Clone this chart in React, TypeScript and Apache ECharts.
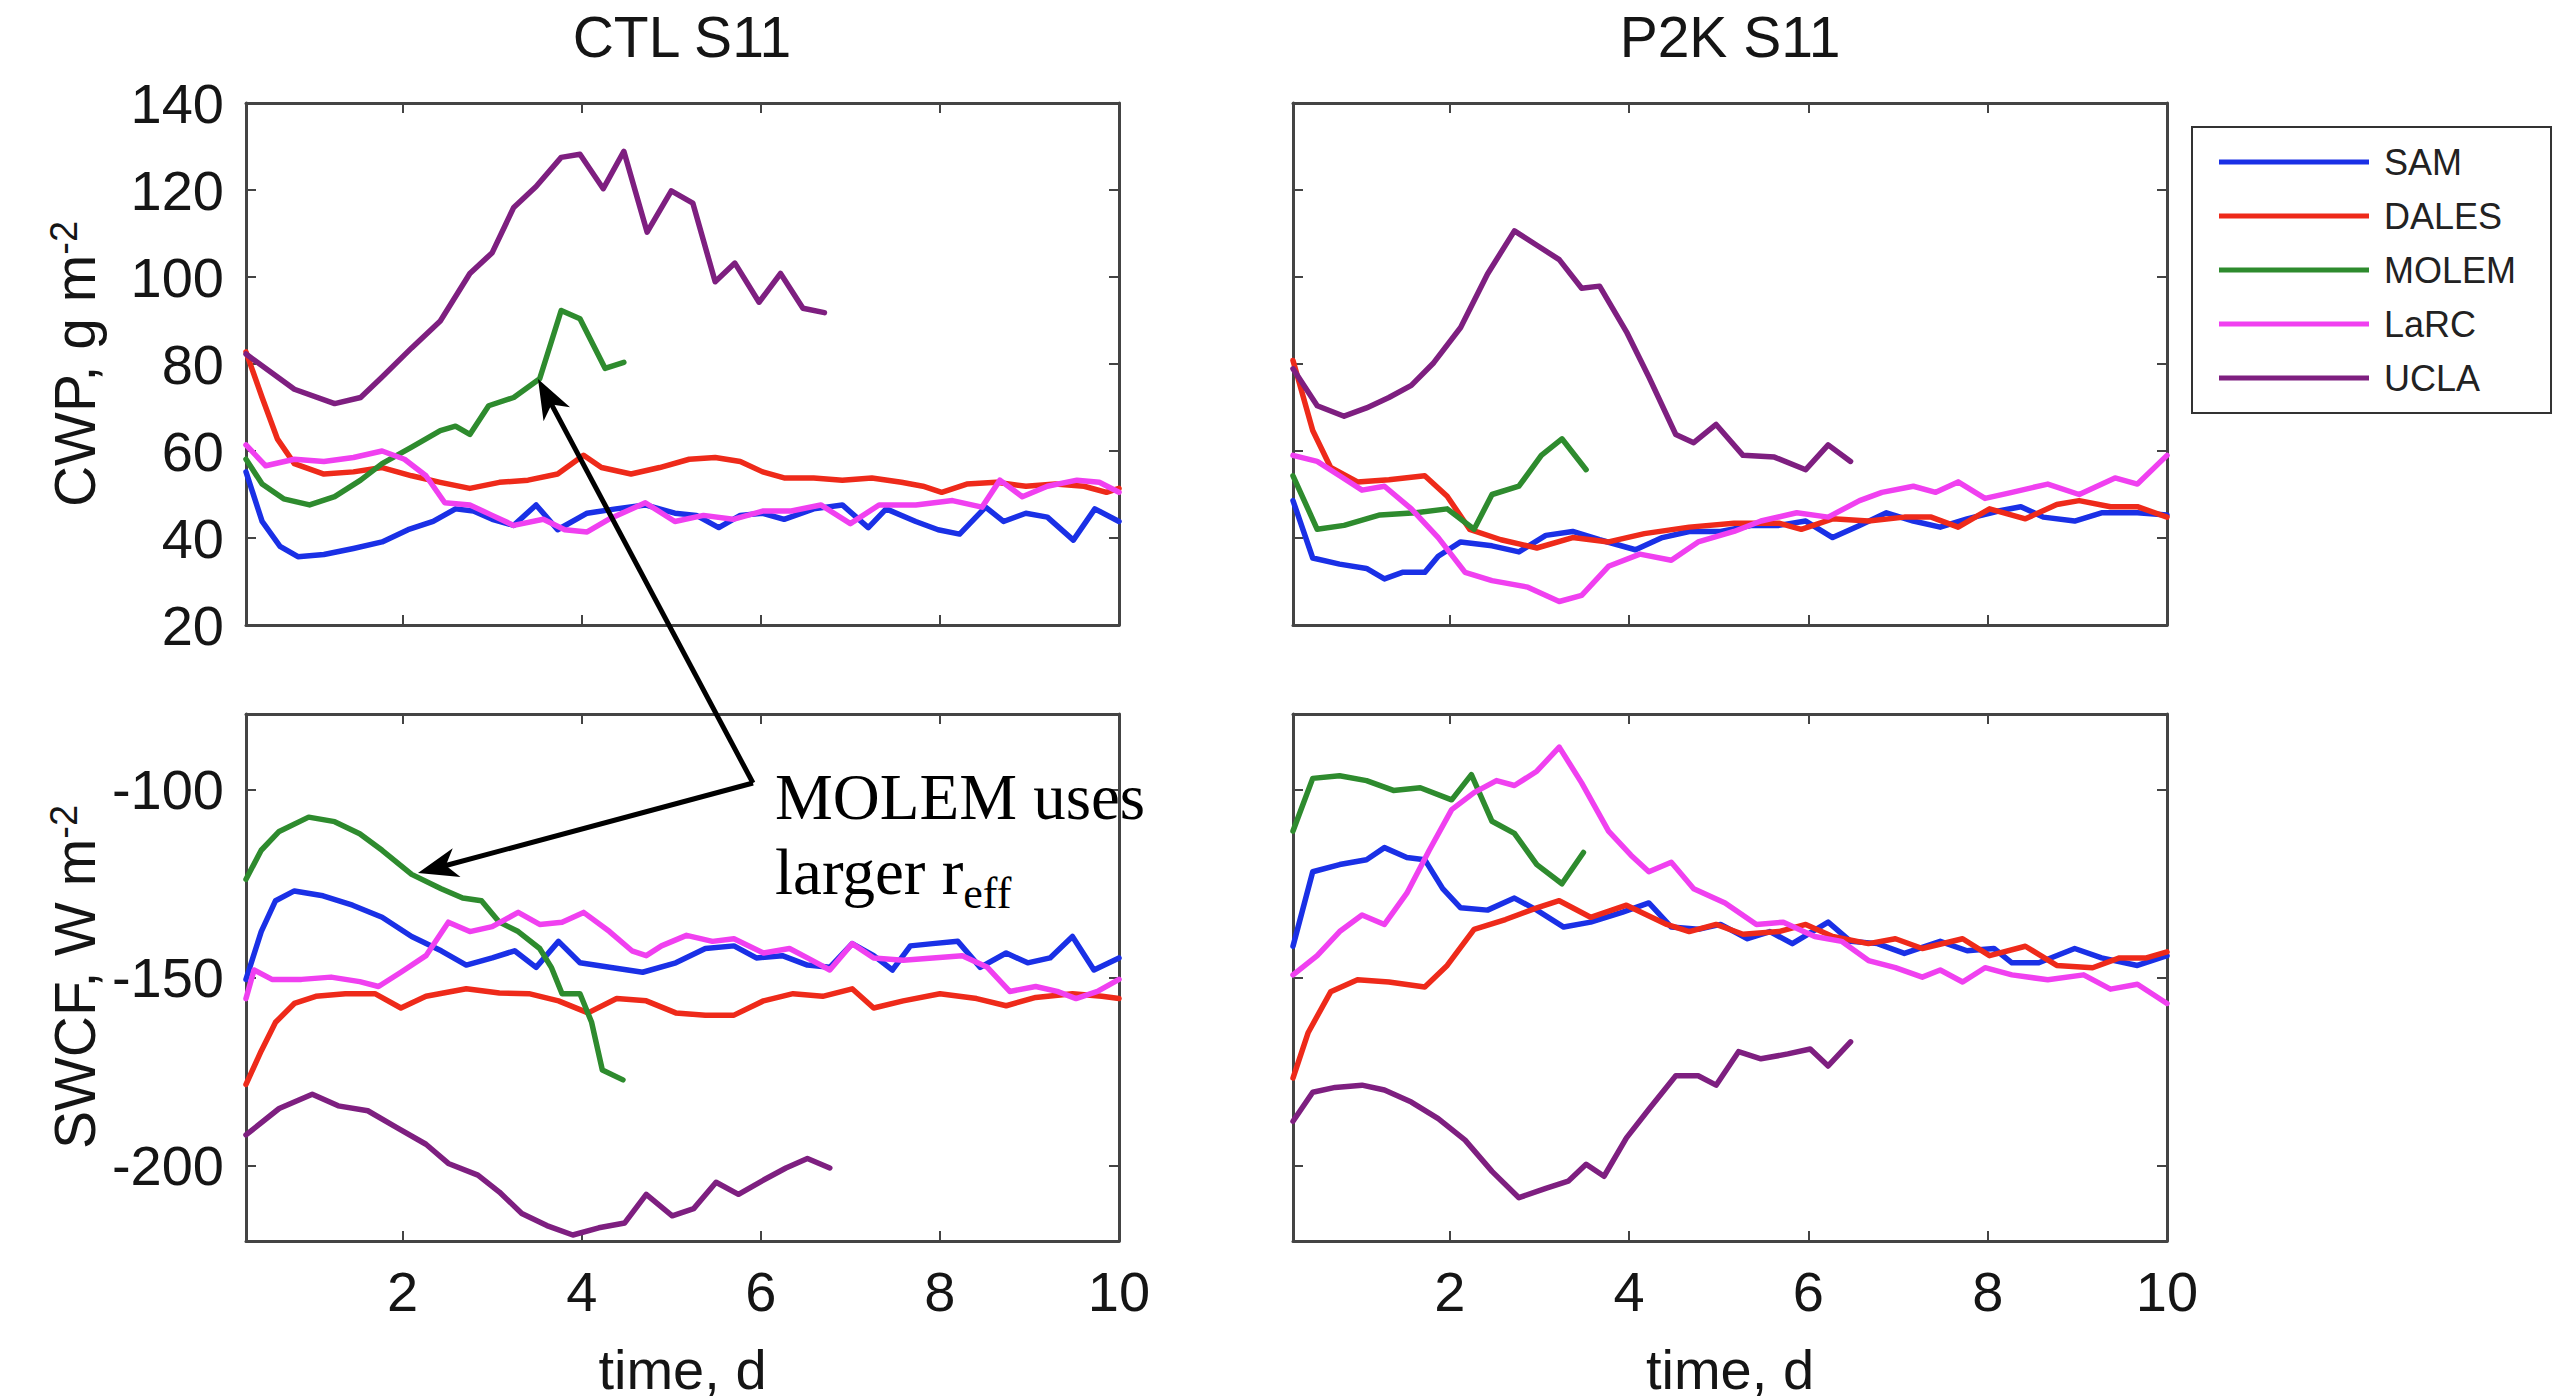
import React, { useEffect, useRef } from "react";
import * as echarts from "echarts";

// ---------- data ----------
const models = ["SAM", "DALES", "MOLEM", "LaRC", "UCLA"];
const modelColors = ["#1a30e6", "#ee2a1a", "#2e8b2e", "#f040f0", "#7e1f80"];
const panelTitles = ["CTL S11", "P2K S11"];
const xTickValues = [2, 4, 6, 8, 10];
const cwpTicks = [20, 40, 60, 80, 100, 120, 140];
const swcfTicks = [-200, -150, -100];

// CTL, CWP (g m-2)
const ctlCwpSam = [[0.25,55.2],[0.43,43.8],[0.63,38.1],[0.83,35.7],[1.12,36.2],[1.45,37.6],[1.77,39.1],[2.06,41.9],[2.34,43.8],[2.59,46.7],[2.79,46.2],[3.0,44.3],[3.24,42.9],[3.49,47.6],[3.73,41.9],[4.06,45.7],[4.38,46.7],[4.71,47.6],[5.04,45.7],[5.28,45.2],[5.53,42.4],[5.77,45.2],[6.02,45.7],[6.26,44.3],[6.59,46.7],[6.91,47.6],[7.2,42.4],[7.4,46.7],[7.73,43.8],[7.98,41.9],[8.22,40.9],[8.51,47.1],[8.71,43.8],[8.96,45.7],[9.2,44.8],[9.49,39.5],[9.73,46.7],[10,43.8]];
const ctlCwpDales = [[0.25,82.8],[0.43,72.3],[0.6,62.8],[0.79,57.1],[1.12,54.7],[1.45,55.2],[1.77,56.2],[2.1,54.3],[2.42,52.8],[2.75,51.4],[3.08,52.8],[3.4,53.3],[3.73,54.7],[4.02,59],[4.22,56.2],[4.55,54.7],[4.87,56.2],[5.2,58.1],[5.49,58.5],[5.77,57.6],[6.02,55.2],[6.26,53.8],[6.59,53.8],[6.91,53.3],[7.24,53.8],[7.57,52.8],[7.81,51.9],[8.02,50.5],[8.3,52.4],[8.63,52.8],[8.96,51.9],[9.29,52.4],[9.61,51.9],[9.86,50.5],[10,51.4]];
const ctlCwpMolem = [[0.25,58.1],[0.43,52.4],[0.67,49],[0.96,47.6],[1.24,49.5],[1.53,53.3],[1.77,57.1],[2.1,60.9],[2.42,64.7],[2.59,65.7],[2.75,63.8],[2.96,70.4],[3.24,72.3],[3.53,76.6],[3.77,92.3],[3.98,90.4],[4.26,79],[4.47,80.4]];
const ctlCwpLarc = [[0.25,61.4],[0.47,56.6],[0.79,58.1],[1.12,57.6],[1.45,58.5],[1.77,60],[2.02,58.1],[2.26,54.3],[2.47,48.1],[2.75,47.6],[3.0,45.2],[3.24,42.9],[3.57,44.3],[3.81,41.9],[4.06,41.4],[4.3,44.3],[4.71,48.1],[5.04,43.8],[5.36,45.2],[5.69,44.3],[6.02,46.2],[6.34,46.2],[6.67,47.6],[7.0,43.3],[7.32,47.6],[7.73,47.6],[8.14,48.6],[8.47,47.1],[8.67,53.3],[8.92,49.5],[9.2,51.9],[9.53,53.3],[9.78,52.8],[10,50.5]];
const ctlCwpUcla = [[0.25,82.3],[0.79,74.2],[1.24,70.9],[1.53,72.3],[1.77,77],[2.1,83.7],[2.42,89.9],[2.75,100.8],[3.0,105.6],[3.24,116],[3.49,120.8],[3.77,127.5],[3.98,128.2],[4.24,120.3],[4.47,128.9],[4.73,110.3],[5.0,119.8],[5.24,117],[5.49,98.9],[5.71,103.2],[5.98,94.2],[6.22,100.8],[6.47,92.8],[6.71,91.8]];

// P2K, CWP (g m-2)
const p2kCwpSam = [[0.25,48.6],[0.47,35.4],[0.77,34],[1.07,33],[1.27,30.6],[1.47,32.1],[1.72,32.1],[1.87,35.8],[2.12,39.1],[2.47,38.2],[2.77,36.8],[3.07,40.6],[3.37,41.5],[3.67,39.6],[4.07,37.3],[4.37,40.1],[4.67,41.5],[5.02,41.5],[5.37,42.9],[5.67,42.9],[5.97,43.9],[6.27,40.1],[6.57,42.9],[6.87,45.8],[7.17,43.9],[7.47,42.5],[7.77,44.4],[8.12,46.2],[8.37,47.2],[8.62,44.8],[8.97,43.9],[9.27,45.8],[9.67,45.8],[10,45.3]];
const p2kCwpDales = [[0.25,80.8],[0.47,64.7],[0.67,56.2],[0.97,52.9],[1.32,53.4],[1.72,54.3],[1.97,49.6],[2.22,42],[2.57,39.6],[2.97,37.7],[3.37,40.1],[3.77,39.1],[4.17,41],[4.67,42.5],[5.17,43.4],[5.67,43.4],[5.92,42],[6.27,44.4],[6.67,43.9],[7.07,44.8],[7.37,44.8],[7.67,42.5],[8.02,46.7],[8.42,44.4],[8.77,47.7],[9.02,48.6],[9.37,47.2],[9.67,47.2],[10,44.8]];
const p2kCwpMolem = [[0.25,54.3],[0.52,42],[0.82,42.9],[1.22,45.3],[1.62,45.8],[1.97,46.7],[2.27,42],[2.47,50],[2.77,51.9],[3.02,59],[3.25,62.8],[3.52,55.7]];
const p2kCwpLarc = [[0.25,59],[0.52,57.6],[0.77,54.3],[1.02,51],[1.27,51.9],[1.57,46.7],[1.87,40.1],[2.17,32.1],[2.47,30.2],[2.87,28.7],[3.22,25.4],[3.47,26.8],[3.77,33.5],[4.12,36.3],[4.47,34.9],[4.77,39.1],[5.17,41.5],[5.47,43.9],[5.87,45.8],[6.22,44.8],[6.57,48.6],[6.82,50.5],[7.17,51.9],[7.42,50.5],[7.67,52.9],[7.97,49.1],[8.27,50.5],[8.67,52.4],[9.02,50],[9.42,53.8],[9.67,52.4],[10,59]];
const p2kCwpUcla = [[0.25,78.9],[0.52,70.4],[0.82,68],[1.07,69.9],[1.32,72.3],[1.57,75.1],[1.82,80.3],[2.12,88.4],[2.42,100.7],[2.72,110.6],[2.97,107.3],[3.22,104],[3.47,97.4],[3.67,97.9],[3.97,87.4],[4.22,77],[4.52,63.8],[4.72,61.9],[4.97,66.1],[5.27,59],[5.62,58.6],[5.97,55.7],[6.22,61.4],[6.47,57.6]];

// CTL, SWCF (W m-2)
const ctlSwcfSam = [[0.25,-150.5],[0.42,-137.8],[0.58,-129.6],[0.79,-127],[1.11,-128.3],[1.44,-130.8],[1.77,-134],[2.1,-139.1],[2.43,-142.9],[2.71,-146.7],[3.0,-144.8],[3.25,-142.9],[3.49,-147.3],[3.74,-140.4],[3.98,-146.1],[4.31,-147.3],[4.68,-148.6],[5.05,-146.1],[5.38,-142.3],[5.7,-141.6],[5.95,-144.8],[6.24,-144.2],[6.52,-146.7],[6.77,-147.3],[7.02,-141],[7.26,-144.2],[7.47,-148],[7.67,-141.6],[7.92,-141],[8.2,-140.4],[8.45,-147.3],[8.74,-143.5],[8.98,-146.1],[9.23,-144.8],[9.48,-139.1],[9.72,-148],[10,-144.8]];
const ctlSwcfDales = [[0.25,-178.4],[0.42,-169.5],[0.58,-161.9],[0.79,-156.9],[1.03,-155],[1.36,-154.3],[1.69,-154.3],[1.98,-158.1],[2.26,-155],[2.71,-153],[3.08,-154.1],[3.41,-154.3],[3.74,-156.2],[4.07,-159.4],[4.39,-155.6],[4.72,-156.2],[5.05,-159.4],[5.38,-160],[5.7,-160],[6.03,-156.2],[6.36,-154.3],[6.69,-155],[7.02,-153],[7.26,-158.1],[7.59,-156.2],[8.0,-154.3],[8.41,-155.6],[8.74,-157.5],[9.07,-155.3],[9.48,-154.3],[9.81,-155],[10,-155.6]];
const ctlSwcfMolem = [[0.25,-123.9],[0.42,-116.2],[0.62,-111.2],[0.95,-107.4],[1.24,-108.6],[1.52,-111.8],[1.77,-116.2],[2.1,-122.6],[2.43,-126.4],[2.67,-128.9],[2.88,-129.6],[3.08,-135.3],[3.29,-137.8],[3.53,-142.3],[3.66,-147.3],[3.78,-154.3],[3.98,-154.3],[4.11,-161.9],[4.23,-174.6],[4.46,-177.2]];
const ctlSwcfLarc = [[0.25,-155.6],[0.34,-148],[0.54,-150.5],[0.87,-150.5],[1.2,-149.9],[1.52,-151.1],[1.73,-152.4],[1.98,-148.6],[2.26,-144.2],[2.51,-135.3],[2.75,-137.8],[3.0,-136.5],[3.29,-132.7],[3.53,-135.9],[3.78,-135.3],[4.02,-132.7],[4.31,-137.8],[4.56,-142.9],[4.72,-144.2],[4.89,-141.6],[5.17,-138.8],[5.46,-140.4],[5.7,-139.7],[6.03,-143.5],[6.32,-142.3],[6.52,-144.8],[6.77,-148],[7.02,-141],[7.26,-144.8],[7.59,-145.4],[7.92,-144.8],[8.25,-144.2],[8.53,-147.3],[8.78,-153.7],[9.07,-152.4],[9.31,-153.7],[9.52,-155.6],[9.76,-153.7],[10,-150.5]];
const ctlSwcfUcla = [[0.25,-191.8],[0.62,-184.8],[0.99,-181],[1.28,-184.1],[1.61,-185.4],[1.93,-189.8],[2.26,-194.3],[2.51,-199.4],[2.84,-202.5],[3.08,-207],[3.33,-212.7],[3.61,-215.9],[3.9,-218.4],[4.19,-216.5],[4.48,-215.2],[4.72,-207.6],[5.01,-213.3],[5.25,-211.4],[5.5,-204.4],[5.75,-207.6],[6.03,-203.8],[6.28,-200.6],[6.52,-198.1],[6.77,-200.6]];

// P2K, SWCF (W m-2)
const p2kSwcfSam = [[0.25,-141.7],[0.47,-121.9],[0.77,-120],[1.07,-118.7],[1.27,-115.5],[1.52,-118.1],[1.72,-118.7],[1.92,-126.4],[2.12,-131.5],[2.42,-132.1],[2.72,-128.9],[2.97,-132.1],[3.27,-136.6],[3.57,-135.3],[3.92,-132.7],[4.22,-130.2],[4.47,-136.6],[4.77,-137.2],[5.02,-135.9],[5.32,-139.7],[5.57,-137.8],[5.82,-141],[6.22,-135.3],[6.47,-140.4],[6.77,-141],[7.07,-143.6],[7.47,-140.4],[7.77,-142.9],[8.07,-142.3],[8.27,-146.1],[8.57,-146.1],[8.97,-142.3],[9.27,-144.8],[9.67,-146.8],[10,-144.2]];
const p2kSwcfDales = [[0.25,-176.7],[0.42,-164.6],[0.67,-153.8],[0.97,-150.6],[1.32,-151.2],[1.72,-152.5],[1.97,-146.8],[2.27,-137.2],[2.62,-134.6],[2.97,-131.5],[3.22,-129.6],[3.57,-134],[3.97,-130.8],[4.42,-135.9],[4.67,-137.8],[4.97,-135.9],[5.27,-138.5],[5.67,-137.8],[5.97,-135.9],[6.27,-139.1],[6.67,-141],[6.97,-139.7],[7.27,-142.3],[7.72,-139.7],[8.02,-144.2],[8.42,-141.7],[8.77,-146.8],[9.17,-147.4],[9.47,-144.8],[9.77,-144.8],[10,-143.2]];
const p2kSwcfMolem = [[0.25,-111.1],[0.47,-97.1],[0.77,-96.4],[1.07,-97.7],[1.37,-100.3],[1.67,-99.6],[2.02,-102.8],[2.24,-96.1],[2.47,-108.5],[2.72,-111.7],[2.97,-120],[3.25,-125.1],[3.49,-116.8]];
const p2kSwcfLarc = [[0.25,-149.3],[0.52,-144.2],[0.77,-137.8],[1.02,-133.4],[1.27,-135.9],[1.52,-127.6],[1.77,-116.2],[2.02,-105.4],[2.27,-100.9],[2.52,-97.7],[2.72,-99],[2.97,-95.2],[3.22,-88.8],[3.47,-98.3],[3.77,-111.1],[4.02,-117.5],[4.22,-121.9],[4.47,-119.4],[4.72,-126.4],[5.07,-130.2],[5.42,-135.9],[5.72,-135.3],[6.07,-139.1],[6.37,-140.4],[6.67,-145.5],[6.97,-147.4],[7.27,-149.9],[7.47,-148],[7.72,-151.2],[7.97,-147.4],[8.27,-149.3],[8.67,-150.6],[9.07,-149.3],[9.37,-153.1],[9.67,-151.8],[10,-156.9]];
const p2kSwcfUcla = [[0.25,-188.2],[0.47,-180.5],[0.72,-179.2],[1.02,-178.6],[1.27,-179.9],[1.57,-183.1],[1.87,-187.5],[2.17,-193.2],[2.47,-201.5],[2.77,-208.5],[3.07,-206],[3.32,-204.1],[3.52,-199.6],[3.72,-202.8],[3.97,-192.6],[4.22,-185],[4.52,-176.1],[4.77,-176.1],[4.97,-178.6],[5.22,-169.7],[5.47,-171.6],[5.77,-170.3],[6.02,-169],[6.22,-173.5],[6.47,-167.1]];

const panelSeries = [
  [ctlCwpSam, ctlCwpDales, ctlCwpMolem, ctlCwpLarc, ctlCwpUcla],
  [p2kCwpSam, p2kCwpDales, p2kCwpMolem, p2kCwpLarc, p2kCwpUcla],
  [ctlSwcfSam, ctlSwcfDales, ctlSwcfMolem, ctlSwcfLarc, ctlSwcfUcla],
  [p2kSwcfSam, p2kSwcfDales, p2kSwcfMolem, p2kSwcfLarc, p2kSwcfUcla],
];

// ---------- layout / style ----------
const FONT = "'Liberation Sans', Arial, Helvetica, sans-serif";
const SERIF = "'Liberation Serif', 'Times New Roman', serif";
const FRAME = "#444444";
const TEXT = "#151515";

const grids = [
  { left: 246, top: 103, width: 873, height: 522 },
  { left: 1293, top: 103, width: 874, height: 522 },
  { left: 246, top: 714, width: 873, height: 527 },
  { left: 1293, top: 714, width: 874, height: 527 },
];

function makeX(gridIndex: number, position: string, showLabels: boolean) {
  return {
    type: "value",
    gridIndex,
    position,
    min: 0.25,
    max: 10,
    axisLine: { show: true, onZero: false, lineStyle: { color: FRAME, width: 3 } },
    axisTick: { show: true, inside: true, length: 10, customValues: xTickValues, lineStyle: { color: FRAME, width: 2 } },
    axisLabel: { show: showLabels, customValues: xTickValues, margin: 22, fontSize: 56, fontFamily: FONT, color: TEXT },
    splitLine: { show: false },
    name: showLabels ? "time, d" : "",
    nameLocation: "middle",
    nameGap: 100,
    nameTextStyle: { fontSize: 56, fontFamily: FONT, color: TEXT },
  };
}

function makeY(gridIndex: number, position: string, showLabels: boolean, isCwp: boolean) {
  const base: any = {
    type: "value",
    gridIndex,
    position,
    axisLine: { show: true, onZero: false, lineStyle: { color: FRAME, width: 3 } },
    axisTick: { show: true, inside: true, length: 10, lineStyle: { color: FRAME, width: 2 } },
    axisLabel: { show: showLabels, margin: 22, fontSize: 56, fontFamily: FONT, color: TEXT },
    splitLine: { show: false },
  };
  if (isCwp) {
    base.min = cwpTicks[0];
    base.max = cwpTicks[cwpTicks.length - 1];
    base.interval = 20;
  } else {
    base.min = -220;
    base.max = -80;
    base.axisTick.customValues = swcfTicks;
    base.axisLabel.customValues = swcfTicks;
  }
  return base;
}

function arrow(sx: number, sy: number, tx: number, ty: number) {
  const dx = tx - sx, dy = ty - sy;
  const len = Math.sqrt(dx * dx + dy * dy);
  const ux = dx / len, uy = dy / len;
  const nx = -uy, ny = ux;
  const L = 40, W = 30;
  const bx = tx - ux * L, by = ty - uy * L;
  return [
    { type: "line", shape: { x1: sx, y1: sy, x2: tx - ux * 25, y2: ty - uy * 25 }, style: { stroke: "#000", lineWidth: 5 }, z: 100 },
    { type: "polygon", shape: { points: [[tx, ty], [bx + nx * W / 2, by + ny * W / 2], [tx - ux * L * 0.72, ty - uy * L * 0.72], [bx - nx * W / 2, by - ny * W / 2]] }, style: { fill: "#000" }, z: 100 },
  ];
}

export default function App() {
  const ref = useRef<HTMLDivElement>(null);
  useEffect(() => {
    if (!ref.current) return;
    const chart = echarts.init(ref.current, null, { renderer: "svg" });

    const xAxis: any[] = [];
    const yAxis: any[] = [];
    grids.forEach((_, p) => {
      const bottomRow = p >= 2;
      const leftCol = p % 2 === 0;
      xAxis.push(makeX(p, "bottom", bottomRow));
      xAxis.push(makeX(p, "top", false));
      yAxis.push(makeY(p, "left", leftCol, p < 2));
      yAxis.push(makeY(p, "right", false, p < 2));
    });

    const series: any[] = [];
    panelSeries.forEach((list, p) => {
      list.forEach((data, m) => {
        series.push({
          type: "line",
          name: models[m],
          xAxisIndex: p * 2,
          yAxisIndex: p * 2,
          data,
          showSymbol: false,
          symbol: "none",
          lineStyle: { width: 5.5, color: modelColors[m], join: "round", cap: "round" },
          itemStyle: { color: modelColors[m] },
          z: 2 + m,
        });
      });
    });

    const vertex = [753, 783];
    const graphic: any[] = [
      { type: "text", x: 682, y: 37, style: { text: panelTitles[0], fontSize: 57, fontFamily: FONT, fill: TEXT, align: "center", verticalAlign: "middle" } },
      { type: "text", x: 1730, y: 37, style: { text: panelTitles[1], fontSize: 57, fontFamily: FONT, fill: TEXT, align: "center", verticalAlign: "middle" } },
      {
        type: "text", x: 75, y: 364, rotation: Math.PI / 2,
        style: {
          text: "{a|CWP, g m}{b|-2}", align: "center", verticalAlign: "middle", fill: TEXT,
          rich: {
            a: { fontSize: 57, fontFamily: FONT, fill: TEXT, lineHeight: 60 },
            b: { fontSize: 38, fontFamily: FONT, fill: TEXT, verticalAlign: "top", lineHeight: 38 },
          },
        },
      },
      {
        type: "text", x: 75, y: 977, rotation: Math.PI / 2,
        style: {
          text: "{a|SWCF, W m}{b|-2}", align: "center", verticalAlign: "middle", fill: TEXT,
          rich: {
            a: { fontSize: 57, fontFamily: FONT, fill: TEXT, lineHeight: 60 },
            b: { fontSize: 38, fontFamily: FONT, fill: TEXT, verticalAlign: "top", lineHeight: 38 },
          },
        },
      },
      { type: "text", x: 775, y: 797, z: 100, style: { text: "MOLEM uses", fontSize: 65, fontFamily: SERIF, fill: "#000", align: "left", verticalAlign: "middle" } },
      {
        type: "text", x: 775, y: 872, z: 100,
        style: {
          text: "{a|larger r}{b|eff}", align: "left", verticalAlign: "middle", fill: "#000",
          rich: {
            a: { fontSize: 65, fontFamily: SERIF, fill: "#000", lineHeight: 70 },
            b: { fontSize: 44, fontFamily: SERIF, fill: "#000", verticalAlign: "bottom", lineHeight: 44, padding: [0, 0, -8, 0] },
          },
        },
      },
      ...arrow(vertex[0], vertex[1], 538, 379),
      ...arrow(vertex[0], vertex[1], 418, 873),
    ];

    const option: any = {
      animation: false,
      backgroundColor: "#ffffff",
      grid: grids.map((g) => ({ ...g, containLabel: false, outerBoundsMode: "none" })),
      xAxis,
      yAxis,
      series,
      legend: {
        orient: "vertical",
        left: 2192,
        top: 127,
        data: models,
        icon: "rect",
        itemWidth: 150,
        itemHeight: 5,
        itemGap: 14,
        padding: [15, 35, 15, 27],
        borderColor: "#333",
        borderWidth: 2,
        backgroundColor: "#fff",
        selectedMode: false,
        textStyle: { fontSize: 36, fontFamily: FONT, color: "#222", lineHeight: 40, padding: [0, 0, 0, 10] },
      },
      graphic,
    };
    chart.setOption(option);
    return () => chart.dispose();
  }, []);
  return <div ref={ref} style={{ position: "absolute", left: 0, top: 0, width: 2561, height: 1400 }} />;
}
